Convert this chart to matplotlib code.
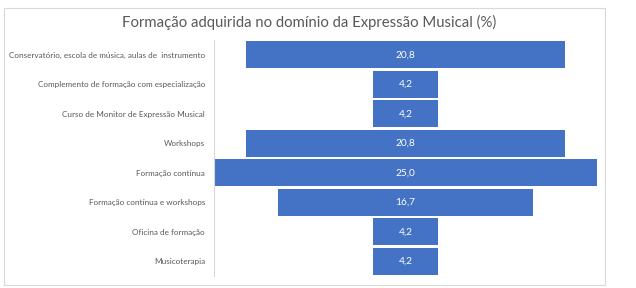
import matplotlib
matplotlib.use("Agg")
import matplotlib.pyplot as plt
from matplotlib.patches import Rectangle

categories = [
    "Conservatório, escola de música, aulas de  instrumento",
    "Complemento de formação com especialização",
    "Curso de Monitor de Expressão Musical",
    "Workshops",
    "Formação contínua",
    "Formação contínua e workshops",
    "Oficina de formação",
    "Musicoterapia",
]
values = [20.8, 4.2, 4.2, 20.8, 25.0, 16.7, 4.2, 4.2]
value_labels = ["20,8", "4,2", "4,2", "20,8", "25,0", "16,7", "4,2", "4,2"]
title = "Formação adquirida no domínio da Expressão Musical (%)"

plt.rcParams['font.family'] = ['Lato', 'DejaVu Sans']

fig = plt.figure(figsize=(6.36, 2.88), dpi=100)
fig.patches.append(Rectangle((4/636, 3/288), 601/636, 277/288, transform=fig.transFigure,
                             fill=False, edgecolor="#D9D9D9", lw=0.8))
ax = fig.add_axes([214/636, 12/288, 383/636, 236/288])

ypos = list(range(len(categories)))
lefts = [-v/2 for v in values]
ax.barh(ypos, values, left=lefts, height=0.92, color="#4472C4")
for y, lab in zip(ypos, value_labels):
    ax.text(0, y, lab, ha="center", va="center", color="white", fontsize=7.3)

ax.set_xlim(-12.5, 12.5)
ax.set_ylim(len(categories) - 0.5, -0.5)
ax.set_yticks(ypos)
ax.set_yticklabels(categories, fontsize=5.9, color="#595959")
ax.tick_params(axis="y", length=0, pad=6.5)
ax.set_xticks([])
for s in ["top", "right", "bottom"]:
    ax.spines[s].set_visible(False)
ax.spines["left"].set_color("#D9D9D9")
ax.spines["left"].set_linewidth(0.8)

fig.text(0.5 * (124 + 495) / 636, 1 - 22/288, title, ha="center", va="center",
         fontsize=10.7, color="#595959")

fig.savefig("out.png", dpi=100)
